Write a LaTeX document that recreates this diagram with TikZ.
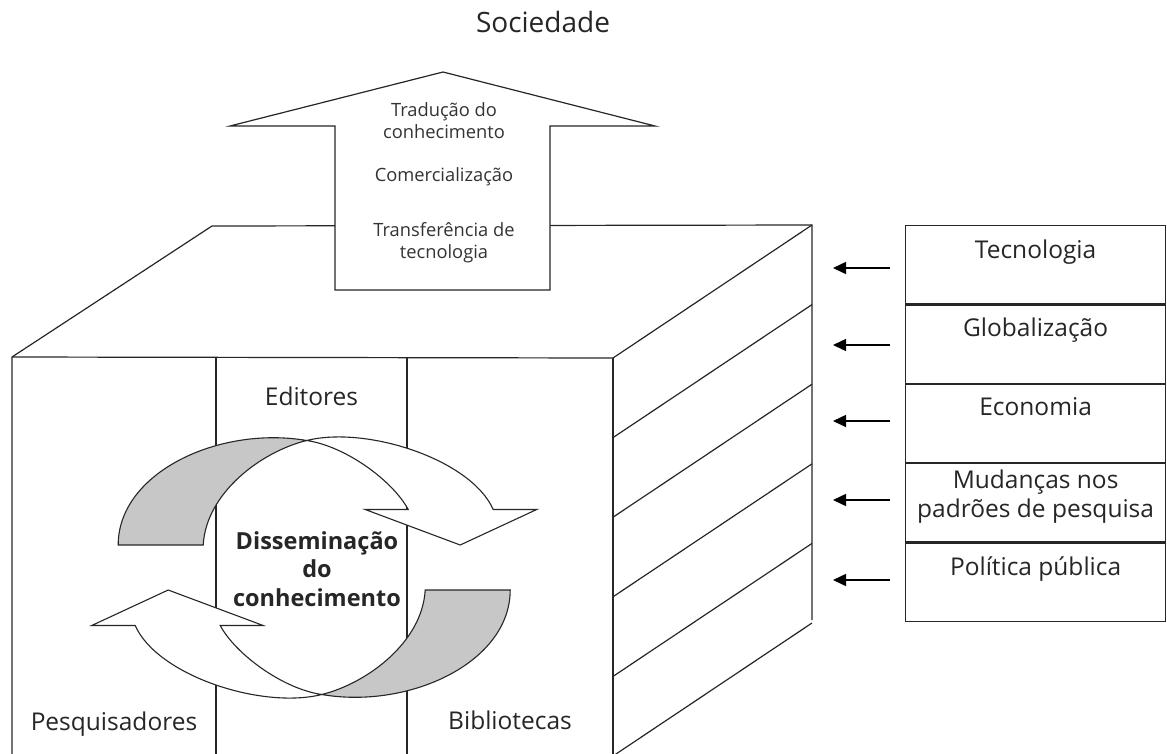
\documentclass[tikz,border=0pt]{standalone}
\usepackage{fontspec}
\setmainfont{Open Sans}
\usetikzlibrary{arrows.meta}
\begin{document}
\begin{tikzpicture}[x=1pt, y=-1pt, line join=miter,
  edge/.style={draw=black!85, line width=1.2pt},
  lbl/.style={font=\fontsize{24.5}{29}\selectfont, text=black!85, inner sep=0pt, align=center},
  small/.style={font=\fontsize{18.3}{21.6}\selectfont, text=black!80, inner sep=0pt, align=center},
  core/.style={font=\bfseries\fontsize{23.5}{28.5}\selectfont, text=black!85, inner sep=0pt, align=center},
  title/.style={font=\fontsize{28}{32}\selectfont, text=black!85, inner sep=0pt},
  factor/.style={draw=black!85, line width=1.2pt, minimum width=260pt, minimum height=78.2pt, inner sep=0pt},
  push/.style={draw=black, line width=1.5pt, -{Triangle[length=13pt,width=12pt]}, shorten <=15pt},
  backside/.style={draw=black!85, line width=1.1pt, fill=black!22},
  frontside/.style={draw=black!85, line width=1.1pt, fill=white},
]
\useasboundingbox (0,0) rectangle (1167,753);
\clip (0,0) rectangle (1167,753);

% ---------- the building block ----------
\coordinate (fl) at (12,357);
\coordinate (bl) at (212,226);
\coordinate (br) at (812,225);
\coordinate (fr) at (613,358);
\draw[edge] (12,760) -- (fl) -- (bl) -- (br) -- (812,620);
\draw[edge] (fl) -- (fr) -- (br);
\draw[edge] (fr) -- (613,760);
\draw[edge] (216,358) -- (216,760);
\draw[edge] (407,358) -- (407,760);
\foreach \k in {1,...,5}
  \draw[edge] (613,{358+79.6*\k}) -- (812,{225+79.6*\k});

% ---------- upward arrow towards society ----------
\draw[edge, fill=white] (335,290) -- (335,126) -- (230,126) -- (443,72)
  -- (655,126) -- (550,126) -- (550,290) -- cycle;
% multi-line nodes: the base anchor sits on the last line
\node[small, anchor=base] (trad) at (444,138.3) {Tradução do\\conhecimento};
\node[small, anchor=base] (com) at (444,181.7) {Comercialização};
\node[small, anchor=base] (trans) at (444,258.3) {Transferência de\\tecnologia};
\node[title, anchor=base] (soc) at (543,32) {Sociedade};

% ---------- cycle of twisted arrows ----------
\foreach \ang in {0,180}{
  \begin{scope}[shift={(314.2,567.5)}, rotate=\ang]
    \path[backside] (-196,-22.5) -- (-111,-22.5)
      .. controls (-108,-75) and (-52.5,-116) .. (-7.5,-127)
      .. controls (-95,-142) and (-196,-95) .. (-196,-22.5) -- cycle;
    \path[frontside] (-7.5,-127)
      .. controls (52.5,-142) and (157,-108) .. (179,-58)
      -- (222.5,-58) -- (146,-22.5) -- (51,-58) -- (94,-58)
      .. controls (79,-86) and (32.5,-121) .. (-7.5,-127) -- cycle;
  \end{scope}
}

% ---------- labels on the front ----------
\node[lbl, anchor=base] (edit) at (311.5,405) {Editores};
\node[lbl, anchor=base] (pesq) at (114,730) {Pesquisadores};
\node[lbl, anchor=base] (bibl) at (510,729) {Bibliotecas};
\node[core, anchor=base] (diss) at (317,606) {Disseminação\\do\\conhecimento};

% ---------- external factors ----------
\node[factor, anchor=north west] (f1) at (905,225) {};
\node[factor, anchor=north] (f2) at (f1.south) {};
\node[factor, anchor=north] (f3) at (f2.south) {};
\node[factor, anchor=north] (f4) at (f3.south) {};
\node[factor, anchor=north] (f5) at (f4.south) {};

\node[lbl, anchor=base] (l1) at ([yshift=-33pt]f1.north) {Tecnologia};
\node[lbl, anchor=base] (l2) at ([yshift=-32pt]f2.north) {Globalização};
\node[lbl, anchor=base] (l3) at ([yshift=-32pt]f3.north) {Economia};
\node[lbl, anchor=base] (l4) at ([yshift=-54pt]f4.north) {Mudanças nos\\padrões de pesquisa};
\node[lbl, anchor=base] (l5) at ([yshift=-33pt]f5.north) {Política pública};

\coordinate (a1) at (833,268);
\coordinate (a2) at (833,345);
\coordinate (a3) at (833,421);
\coordinate (a4) at (833,500);
\coordinate (a5) at (833,580);
\foreach \i in {1,...,5}
  \draw[push] (f\i.west |- a\i) -- (a\i);
\end{tikzpicture}
\end{document}
